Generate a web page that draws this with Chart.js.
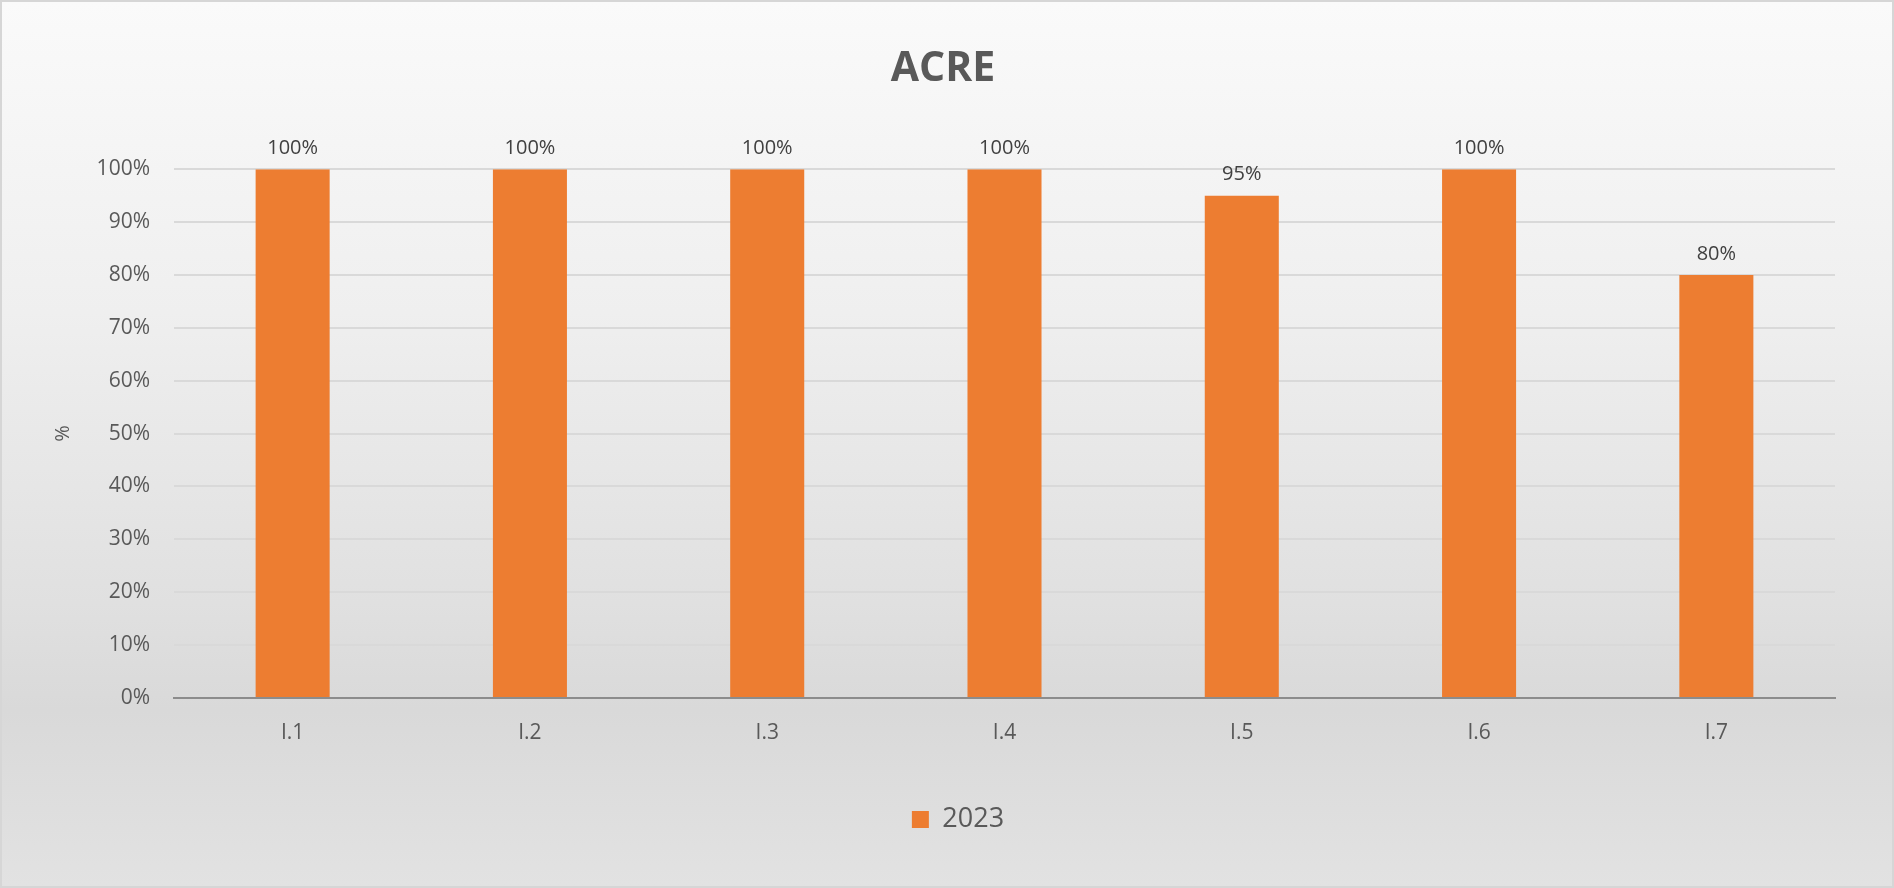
<!DOCTYPE html>
<html>
<head>
<meta charset="utf-8">
<title>ACRE</title>
<script src="https://cdn.jsdelivr.net/npm/chart.js"></script>
<style>
    html, body { margin: 0; padding: 0; }
    #wrap {
        position: relative;
        width: 1894px;
        height: 888px;
        box-sizing: border-box;
        border: 2px solid #d6d6d6;
        background: linear-gradient(to bottom, #fafafa 0%, #efefef 35%, #e0e0e0 68%, #d9d9d9 80%, #e2e2e2 100%);
    }
</style>
</head>
<body>
<div id="wrap"><canvas id="chart"></canvas></div>
<script>
    // chart data
    const categories = ['I.1', 'I.2', 'I.3', 'I.4', 'I.5', 'I.6', 'I.7'];
    const seriesName = '2023';
    const values2023 = [100, 100, 100, 100, 95, 100, 80];
    const yMin = 0;
    const yMax = 100;
    const yStep = 10;

    const FONT = "'Open Sans', 'DejaVu Sans', sans-serif";
    const TEXT = '#595959';
    const ORANGE = '#ED7D31';

    // value labels above each bar
    const barLabels = {
        id: 'barLabels',
        afterDatasetsDraw: function(chart) {
            const ctx = chart.ctx;
            const meta = chart.getDatasetMeta(0);
            ctx.save();
            ctx.font = '20px ' + FONT;
            ctx.fillStyle = '#404040';
            ctx.textAlign = 'center';
            ctx.textBaseline = 'middle';
            meta.data.forEach(function(bar, i) {
                ctx.fillText(chart.data.datasets[0].data[i] + '%', bar.x, bar.y - 21);
            });
            ctx.restore();
        }
    };

    // nudge the legend a bit right / down, like the original
    const legendNudge = {
        id: 'legendNudge',
        afterLayout: function(chart) {
            const lg = chart.legend;
            if (!lg) return;
            lg.left += 15; lg.right += 15;
            lg.top += 4; lg.bottom += 4;
        }
    };

    new Chart(document.getElementById('chart'), {
        type: 'bar',
        data: {
            labels: categories,
            datasets: [{
                label: seriesName,
                data: values2023,
                backgroundColor: ORANGE,
                borderWidth: 0,
                categoryPercentage: 1,
                barPercentage: 0.312
            }]
        },
        options: {
            responsive: true,
            maintainAspectRatio: false,
            animation: false,
            layout: { padding: { top: 0, left: 49, right: 57, bottom: 47 } },
            plugins: {
                title: {
                    display: true,
                    text: 'ACRE',
                    color: TEXT,
                    font: { family: FONT, size: 41, weight: 'bold', lineHeight: 1.2 },
                    padding: { top: 43, bottom: 75 }
                },
                legend: {
                    position: 'bottom',
                    labels: {
                        color: TEXT,
                        font: { family: FONT, size: 27 },
                        boxWidth: 17,
                        boxHeight: 17,
                        padding: 40
                    }
                },
                tooltip: { enabled: false }
            },
            scales: {
                x: {
                    grid: { display: false },
                    border: { display: true, color: '#8c8c8c', width: 2 },
                    ticks: { color: TEXT, font: { family: FONT, size: 21 }, padding: 14 },
                    afterFit: function(scale) { scale.height = 64; }
                },
                y: {
                    min: yMin,
                    max: yMax,
                    border: { display: false },
                    grid: { color: '#d9d9d9', lineWidth: 2, drawTicks: false },
                    ticks: {
                        stepSize: yStep,
                        color: TEXT,
                        font: { family: FONT, size: 21 },
                        padding: 24,
                        callback: function(v) { return v + '%'; }
                    },
                    title: {
                        display: true,
                        text: '%',
                        color: TEXT,
                        font: { family: FONT, size: 20 },
                        padding: 0
                    },
                    afterFit: function(scale) { scale.width = 123; }
                }
            }
        },
        plugins: [barLabels, legendNudge]
    });
</script>
</body>
</html>
